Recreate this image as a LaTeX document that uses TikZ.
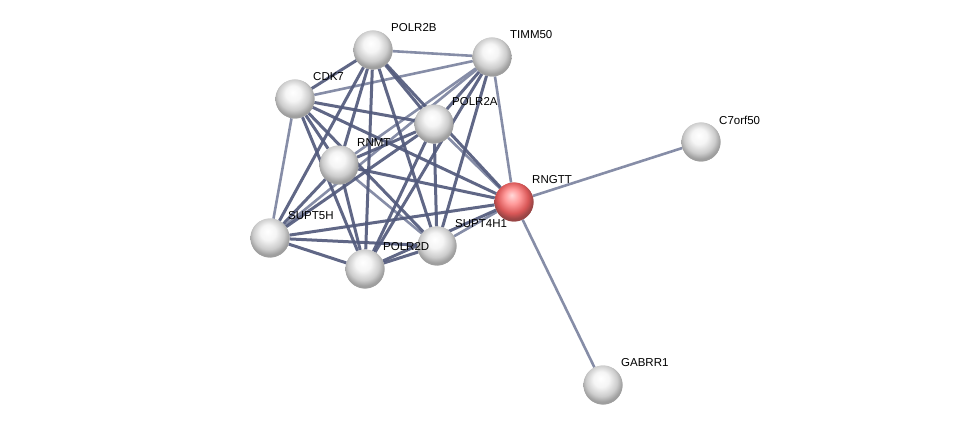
\documentclass[tikz,border=0pt]{standalone}
\usepackage{fontspec}
\setmainfont{Liberation Sans}
\definecolor{edgelight}{HTML}{868DA7}
\definecolor{edgedark}{HTML}{525A7C}
\pgfdeclareradialshading{whiteball}{\pgfqpoint{-3bp}{9bp}}{color(0bp)=(white); color(10bp)=(white!96!black); color(20bp)=(white!80!black); color(26bp)=(white!62!black); color(50bp)=(white!62!black)}
\pgfdeclareradialshading{redball}{\pgfqpoint{-3bp}{9bp}}{color(0bp)=(red!15!white); color(10bp)=(red!40!white); color(20bp)=(red!60!white!85!black); color(26bp)=(red!55!white!60!black); color(50bp)=(red!55!white!60!black)}
\tikzset{
  prot/.style={circle, minimum size=39pt, inner sep=0pt, shading=whiteball},
  hit/.style={prot, shading=redball},
  lbl/.style={anchor=west, inner sep=1pt, font=\fontsize{11.5}{13}\selectfont},
  weak/.style={edgelight, line width=2.6pt},
  strong/.style={edgedark, line width=3pt, opacity=0.92}
}
\begin{document}
\begin{tikzpicture}[x=1pt, y=-1pt]
\useasboundingbox (0,0) rectangle (976,430);
% proteins
\node[prot] (POLR2B) at (373,50){};
\node[prot] (TIMM50) at (492,57){};
\node[prot] (CDK7) at (295,99){};
\node[prot] (POLR2A) at (434,124){};
\node[prot] (RNMT) at (339,165){};
\node[hit] (RNGTT) at (514,202){};
\node[prot] (C7orf50) at (701,142){};
\node[prot] (SUPT5H) at (270,238){};
\node[prot] (SUPT4H1) at (437,246){};
\node[prot] (POLR2D) at (365,269){};
\node[prot] (GABRR1) at (603,385){};
% edges
\foreach \a/\b in {POLR2B/TIMM50, CDK7/TIMM50, TIMM50/RNGTT, TIMM50/RNMT, CDK7/SUPT5H,
  RNMT/SUPT4H1, POLR2A/RNGTT, SUPT4H1/RNGTT, RNGTT/C7orf50, RNGTT/GABRR1, TIMM50/SUPT5H}
  \draw[weak] (\a) -- (\b);
\foreach \a/\b in {POLR2B/CDK7, POLR2B/POLR2A, POLR2B/RNMT, POLR2B/SUPT5H, POLR2B/POLR2D,
  POLR2B/SUPT4H1, POLR2B/RNGTT, CDK7/POLR2A, CDK7/RNMT, CDK7/POLR2D, CDK7/SUPT4H1,
  CDK7/RNGTT, TIMM50/POLR2A, TIMM50/POLR2D, TIMM50/SUPT4H1, POLR2A/RNMT, POLR2A/SUPT5H,
  POLR2A/POLR2D, POLR2A/SUPT4H1, RNMT/SUPT5H, RNMT/POLR2D, RNMT/RNGTT, SUPT5H/POLR2D,
  SUPT5H/SUPT4H1, SUPT5H/RNGTT, POLR2D/SUPT4H1, POLR2D/RNGTT}
  \draw[strong] (\a) -- (\b);
% redraw balls on top
\foreach \n in {POLR2B,TIMM50,CDK7,POLR2A,RNMT,C7orf50,SUPT5H,SUPT4H1,POLR2D,GABRR1}
  \node[prot] at (\n){};
\node[hit] at (RNGTT){};
% labels
\foreach \n in {POLR2B,TIMM50,CDK7,POLR2A,RNMT,RNGTT,C7orf50,SUPT5H,SUPT4H1,POLR2D,GABRR1}
  \node[lbl] (t\n) at ([shift={(17,-22)}]\n.center) {\n};
\end{tikzpicture}
\end{document}
